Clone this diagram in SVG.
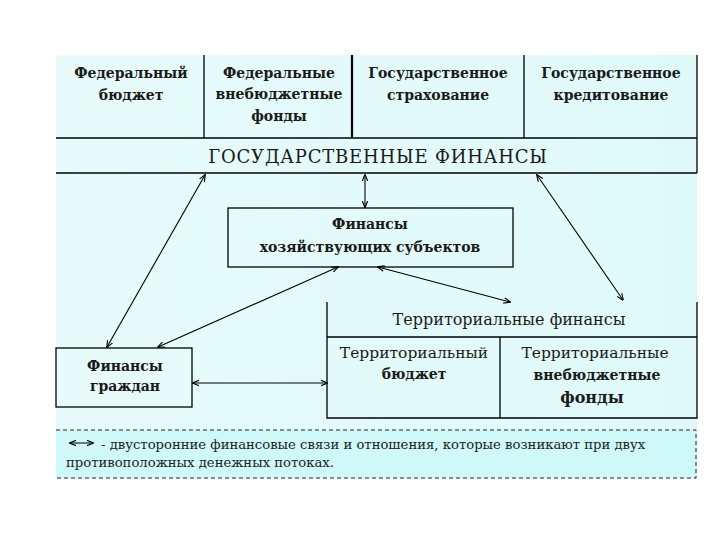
<svg xmlns="http://www.w3.org/2000/svg" width="720" height="540" viewBox="0 0 720 540">
<defs>
<linearGradient id="bg" x1="0" y1="0" x2="1" y2="0">
<stop offset="0" stop-color="#e8fbfb"/>
<stop offset="1" stop-color="#dff9f9"/>
</linearGradient>
<marker id="ah" viewBox="0 0 10 10" refX="9" refY="5" markerWidth="7" markerHeight="7" orient="auto-start-reverse" markerUnits="userSpaceOnUse">
<path d="M0,1 L10,5 L0,9" fill="none" stroke="#000" stroke-width="1.6"/>
</marker>
<style>
.b{fill:none;stroke:#000;stroke-width:1.3}
text{font-family:'DejaVu Serif','Liberation Serif',serif}
.tb{font-weight:bold;font-size:14px;fill:#1a1a1a;text-anchor:middle}
.tr{font-size:15.5px;fill:#1a1a1a;text-anchor:middle}
.lg{font-size:13.2px;fill:#222}
.c{fill:none;stroke:#000;stroke-width:1.1;marker-start:url(#ah);marker-end:url(#ah)}
</style>
</defs>
<rect x="0" y="0" width="720" height="540" fill="#fff"/>
<rect x="56" y="55" width="641" height="423" fill="url(#bg)"/>
<rect x="56" y="430" width="641" height="48" fill="#cff8f8"/>

<g id="top-row">
<line class="b" x1="697" y1="55" x2="697" y2="173"/>
<line class="b" x1="204" y1="55" x2="204" y2="138"/>
<line x1="352" y1="55" x2="352" y2="138" stroke="#000" stroke-width="2.2"/>
<line class="b" x1="524" y1="55" x2="524" y2="138"/>
<line class="b" x1="56" y1="138" x2="697" y2="138"/>
</g>
<g id="federal-budget">
<text class="tb" x="131" y="78">Федеральный</text>
<text class="tb" x="131" y="100">бюджет</text>
</g>
<g id="federal-funds">
<text class="tb" x="279" y="78">Федеральные</text>
<text class="tb" x="279" y="99">внебюджетные</text>
<text class="tb" x="279" y="121">фонды</text>
</g>
<g id="state-insurance">
<text class="tb" x="438" y="78">Государственное</text>
<text class="tb" x="438" y="100">страхование</text>
</g>
<g id="state-credit">
<text class="tb" x="611" y="78">Государственное</text>
<text class="tb" x="611" y="100">кредитование</text>
</g>
<g id="state-finance">
<line class="b" x1="56" y1="173" x2="697" y2="173"/>
<text class="tr" x="378" y="163" style="font-size:18px;letter-spacing:0.8px">ГОСУДАРСТВЕННЫЕ ФИНАНСЫ</text>
</g>
<g id="business-finance">
<rect class="b" x="228" y="208" width="285" height="59"/>
<text class="tb" x="370" y="229">Финансы</text>
<text class="tb" x="370" y="252">хозяйствующих субъектов</text>
</g>
<g id="territorial-finance">
<path class="b" d="M327,302 V418 H697 V302"/>
<line class="b" x1="327" y1="337" x2="697" y2="337"/>
<line class="b" x1="500" y1="337" x2="500" y2="418"/>
<text class="tr" x="509" y="325" style="font-size:16px">Территориальные финансы</text>
</g>
<g id="territorial-budget">
<text class="tr" x="414" y="358">Территориальный</text>
<text class="tb" x="414" y="379">бюджет</text>
</g>
<g id="territorial-funds">
<text class="tr" x="595" y="358">Территориальные</text>
<text class="tb" x="597" y="380">внебюджетные</text>
<text class="tb" x="592" y="403" style="font-size:16px">фонды</text>
</g>
<g id="citizens-finance">
<rect class="b" x="56" y="348" width="136" height="59"/>
<text class="tb" x="125" y="371">Финансы</text>
<text class="tb" x="125" y="391">граждан</text>
</g>
<g id="connectors">
<line class="c" x1="365" y1="175" x2="365" y2="207"/>
<line class="c" x1="205" y1="175" x2="107" y2="347"/>
<line class="c" x1="338" y1="267" x2="158" y2="347"/>
<line class="c" x1="378" y1="267" x2="510" y2="302"/>
<line class="c" x1="537" y1="175" x2="623" y2="300"/>
<line class="c" x1="193" y1="383" x2="327" y2="383"/>
</g>
<g id="legend">
<path d="M56,430 H696 V478 H56" fill="none" stroke="#222" stroke-width="1" stroke-dasharray="4,3"/>
<line x1="70" y1="443" x2="93" y2="443" stroke="#000" stroke-width="1" marker-start="url(#ah)" marker-end="url(#ah)"/>
<text class="lg" x="101" y="449">- двусторонние финансовые связи и отношения, которые возникают при двух</text>
<text class="lg" x="66" y="467">противоположных денежных потоках.</text>
</g>
</svg>
